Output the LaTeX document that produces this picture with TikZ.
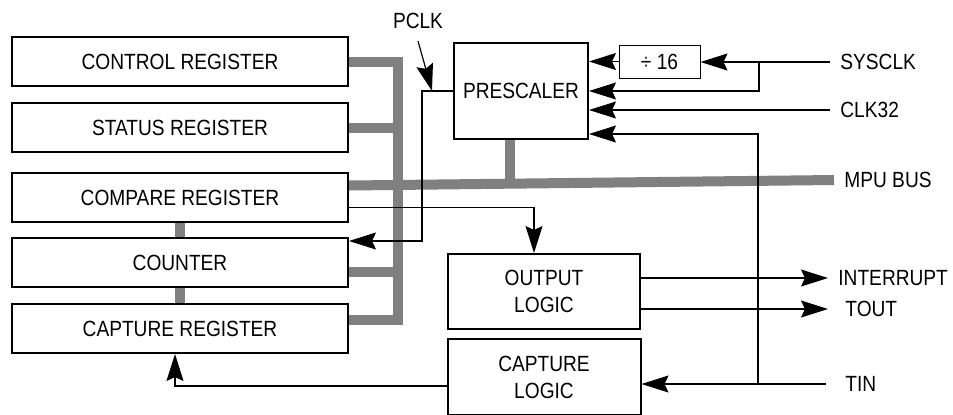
\documentclass[tikz,border=0pt]{standalone}
\usepackage{fontspec}
\setmainfont{Liberation Sans}[FakeStretch=0.87]
\usetikzlibrary{arrows.meta,positioning,backgrounds}
\definecolor{busgray}{HTML}{808080}
\tikzset{
  reg/.style={draw,line width=1pt,fill=white,minimum width=168pt,minimum height=24.5pt,inner sep=0pt},
  blk/.style={draw,line width=1pt,fill=white,align=center,inner sep=0pt},
  divbox/.style={draw,line width=0.5pt,fill=white,minimum width=40.5pt,minimum height=16.5pt,inner sep=0pt},
  sig/.style={anchor=west,inner sep=5pt},
  bus/.style={draw=busgray,line width=5pt,line join=miter},
  ar/.style={-{Stealth[length=13.5pt,width=8.5pt,inset=2pt]},line width=0.6pt},
}

\begin{document}
\begin{tikzpicture}[x=0.5pt,y=-0.5pt,font=\fontsize{11}{13.5}\selectfont]
  \useasboundingbox (0,0) rectangle (953,414);
  \node[reg] (ctl) at (180,61.5) {CONTROL REGISTER};
  \node[reg,below=7.5pt of ctl] (sts) {STATUS REGISTER};
  \node[reg,below=9.5pt of sts] (cmp) {COMPARE REGISTER};
  \node[reg,below=7pt of cmp] (cnt) {COUNTER};
  \node[reg,below=7.5pt of cnt] (capreg) {CAPTURE REGISTER};
  \node[blk,minimum width=67pt,minimum height=48pt] (presc) at (521,91) {PRESCALER};
  \node[divbox] (div) at (659.5,61.5) {÷ 16};
  \node[blk,minimum width=96pt,minimum height=37.5pt] (outlog) at (544,291.5) {OUTPUT\\LOGIC};
  \node[blk,minimum width=96.5pt,minimum height=38pt,below=4pt of outlog] (caplog) {CAPTURE\\LOGIC};
  \node[anchor=base,inner sep=0pt] (pclk) at (418,28) {PCLK};
  \node[sig] (sysclk) at (830,62) {SYSCLK};
  \node[sig] (clk32) at (830,110) {CLK32};
  \node[sig] (mpubus) at (834,180) {MPU BUS};
  \node[sig] (intr) at (828,278) {INTERRUPT};
  \node[sig,inner xsep=8.5pt] (tout) at (828,309) {TOUT};
  \node[sig,inner xsep=9.5pt] (tin) at (826,384) {TIN};
  \coordinate (split) at (759,62);
  \coordinate (tap) at (758,384);
  \coordinate (pbend) at (422,241);
  \coordinate (ptail) at (418,41);
  \coordinate (ptip) at (432,91);
  \coordinate (vbx) at (398,0);
  \coordinate (capstub) at ([yshift=4.5pt]capreg.east);
  \begin{scope}[on background layer]
    \draw[bus] ([yshift=6pt]cmp.east) -- (mpubus.west);
    \draw[bus] (ctl.east) -| (vbx |- capstub) -- (capstub);
    \draw[bus] (sts.east) -- (sts.east -| vbx);
    \draw[bus] ([yshift=-4.5pt]cnt.east) -- ([yshift=-4.5pt]cnt.east -| vbx);
    \draw[bus] (cmp.south) -- (cnt.north);
    \draw[bus] (cnt.south) -- (capreg.north);
    \draw[bus] ([xshift=-5.5pt]presc.south) -- ([xshift=-5.5pt]presc.south |- mpubus.west);
  \end{scope}
  \draw[ar] (div.west) -- (div.west -| presc.east);
  \draw[ar] (sysclk.west) -- (sysclk.west -| div.east);
  \draw[ar] (split) |- (presc.east);
  \draw[ar] (clk32.west) -- (clk32.west -| presc.east);
  \draw[ar] (tin.west) -- (tin.west -| caplog.east);
  \draw[ar] (tap) |- ([yshift=3pt]presc.south east);
  \draw[ar] (outlog.east |- intr.west) -- (intr.west);
  \draw[ar] (outlog.east |- tout.west) -- (tout.west);
  \draw[ar] ([yshift=-5pt]cmp.east) -| ([xshift=-5pt]outlog.north);
  \draw[ar] (presc.west) -| (pbend) -- (pbend -| cnt.east);
  \draw[ar] (ptail) -- (ptip);
  \draw[ar] ([yshift=-4.5pt]caplog.west) -| ([xshift=-2.5pt]capreg.south);
\end{tikzpicture}
\end{document}
